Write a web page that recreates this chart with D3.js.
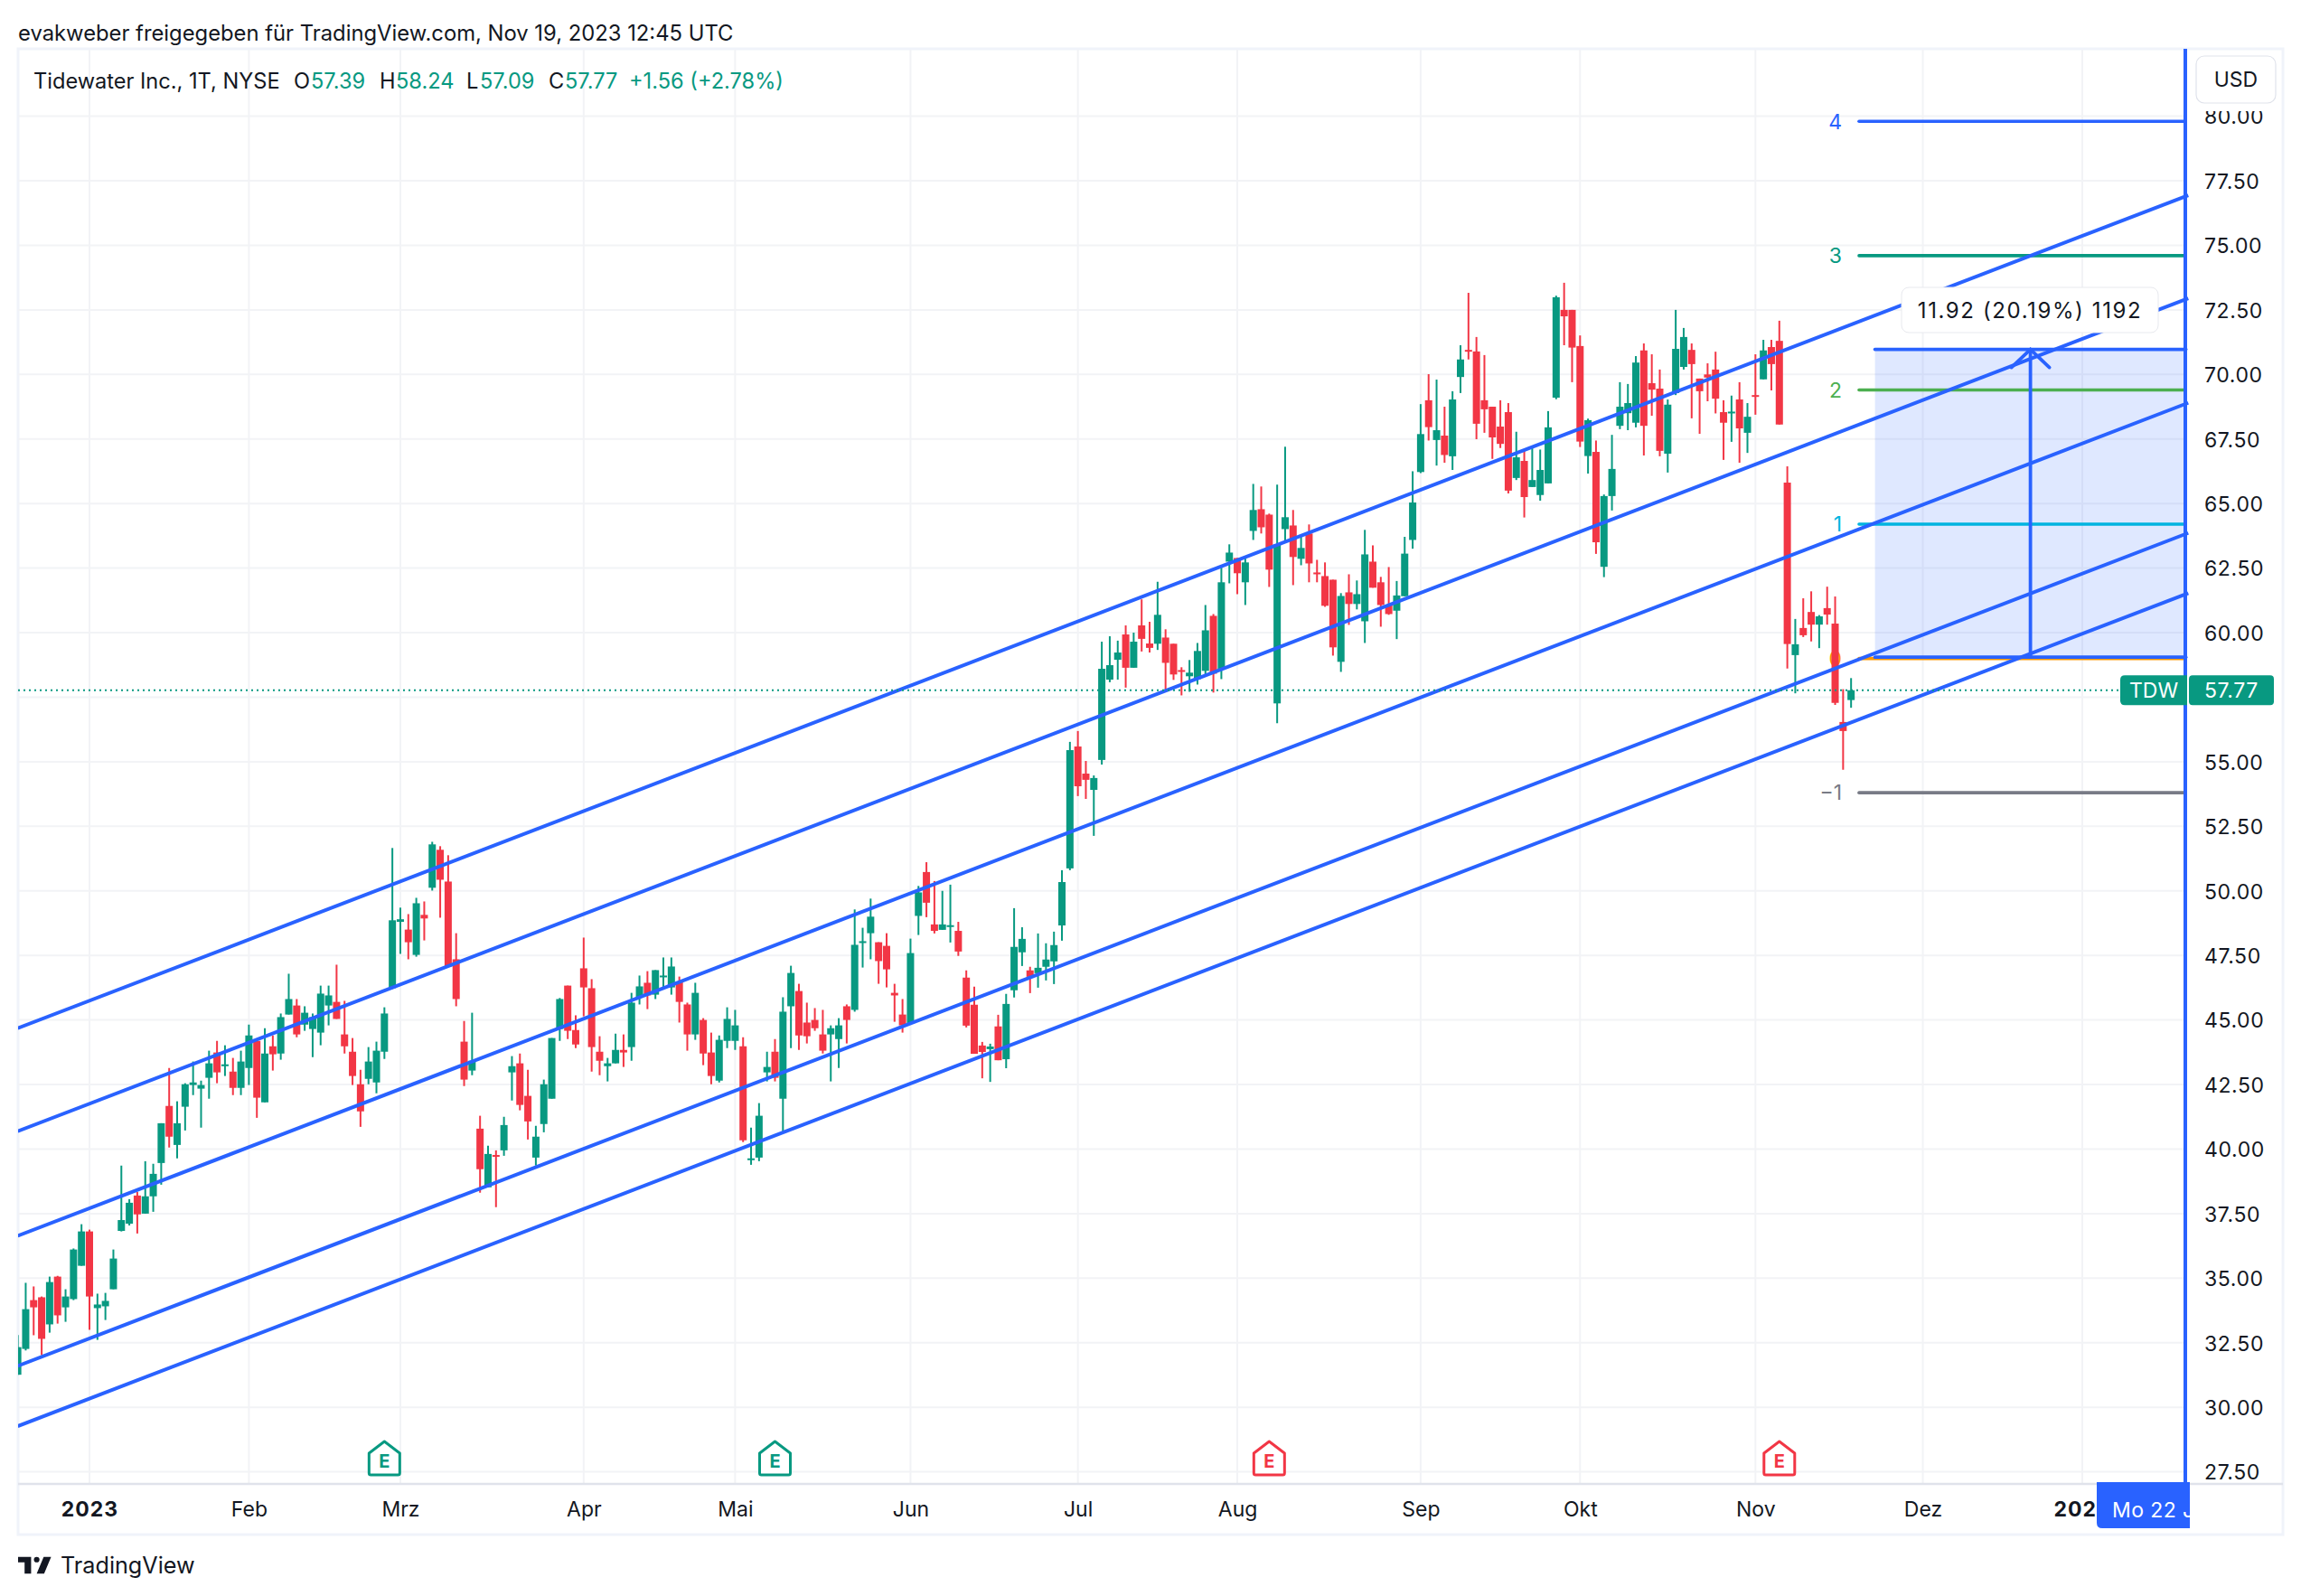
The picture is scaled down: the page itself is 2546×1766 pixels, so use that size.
<!DOCTYPE html>
<html>
<head>
<meta charset="utf-8">
<script src="https://cdn.jsdelivr.net/npm/d3@7"></script>
<style>
  html, body { margin: 0; padding: 0; background: #fff; }
  svg { display: block; font-family: Inter, "Noto Sans", sans-serif; }
</style>
</head>
<body>
<div id="chart"></div>
<script>
// daily candles of TDW, first one is 19 Dec 2022
const opens = [31.26,32.26,34.15,34.26,33.21,35.06,33.87,34.19,35.48,36.81,33.84,33.91,34.57,36.83,37.11,38.20,37.50,38.17,39.46,41.67,40.16,41.64,42.48,42.34,42.76,43.74,43.21,43.00,42.37,43.14,44.19,41.81,43.98,43.70,45.21,45.56,44.82,44.65,44.51,45.56,45.70,44.44,43.77,42.51,42.72,42.58,43.77,46.23,48.80,48.50,47.52,49.07,50.12,51.59,50.36,47.35,44.16,43.04,40.79,38.52,39.77,39.95,42.97,43.32,42.06,39.67,40.97,41.95,44.65,46.33,44.61,47.00,46.23,43.77,43.21,43.32,43.84,43.95,45.88,46.44,45.98,46.65,46.26,46.47,45.60,44.44,45.00,43.74,42.65,44.19,44.19,43.98,39.57,39.67,42.97,43.77,41.95,45.53,46.12,44.90,45.00,44.44,44.44,44.26,45.53,45.39,47.98,48.36,48.01,47.87,46.05,45.21,44.86,49.03,50.73,48.70,48.49,48.60,48.45,46.64,45.59,44.01,43.87,44.75,43.48,46.15,47.62,46.92,46.81,47.06,47.27,48.66,50.87,55.59,54.54,53.91,55.07,58.18,58.95,59.93,58.64,60.28,59.58,59.57,59.81,59.57,58.55,58.31,58.20,58.52,60.65,58.59,62.75,62.89,61.95,63.94,64.78,64.57,57.26,64.01,64.15,62.86,63.84,62.33,62.19,62.05,58.87,61.56,61.11,60.44,62.75,61.95,61.07,60.85,61.41,63.59,66.22,69.00,67.46,67.63,66.83,69.90,70.95,70.89,69.00,68.75,67.98,68.54,65.99,66.65,65.64,65.33,65.78,69.10,72.50,72.50,71.10,66.84,67.00,62.55,65.29,68.01,68.50,68.13,70.93,69.66,69.45,66.93,69.28,70.29,70.95,69.84,70.00,70.19,68.54,68.49,69.03,67.74,69.20,69.81,71.06,71.30,65.81,59.13,60.18,60.80,60.31,60.95,60.35,56.54,57.39];
const highs = [32.80,34.82,34.68,34.29,35.06,35.09,34.57,36.15,37.09,36.88,34.40,34.43,36.11,39.36,38.06,38.34,39.53,39.43,41.00,43.14,41.85,42.55,43.39,42.65,43.81,44.19,44.02,43.53,43.81,44.82,44.19,44.68,44.40,45.25,46.79,45.81,45.53,45.25,46.33,46.33,47.14,45.74,44.30,43.07,43.95,44.16,45.49,51.66,49.35,49.10,49.73,49.59,51.90,51.73,51.38,48.36,44.96,45.28,41.29,40.13,39.95,41.25,43.60,43.70,43.07,40.90,42.69,44.30,45.85,46.33,45.18,48.19,46.58,44.37,43.53,44.47,44.44,46.05,46.72,46.89,46.93,47.42,47.42,46.68,45.67,46.44,45.07,44.51,44.40,45.49,45.39,44.33,40.83,41.78,43.77,44.26,45.88,47.10,46.40,45.67,45.46,45.39,44.79,45.07,45.60,49.28,48.57,49.70,48.01,48.36,46.40,45.81,48.15,50.19,51.11,50.38,50.00,50.24,48.80,46.92,46.29,44.15,44.08,45.20,46.01,49.33,48.59,47.06,48.35,47.97,48.42,50.80,55.77,56.19,55.03,54.47,59.65,59.86,59.69,60.28,60.00,61.29,60.42,61.97,60.13,59.57,58.66,58.94,59.60,61.07,60.72,62.58,63.42,62.89,62.96,65.76,65.66,64.61,65.73,67.20,64.75,63.77,64.19,62.82,62.72,62.05,61.53,62.26,62.02,63.98,63.38,62.16,62.54,62.00,63.71,66.25,68.85,70.01,69.80,68.75,69.35,71.13,73.16,71.45,70.75,68.75,69.00,68.89,67.78,67.09,67.24,67.09,68.58,73.05,73.55,72.50,71.51,68.29,67.44,65.35,67.66,69.70,69.63,70.71,71.20,70.78,70.19,69.03,72.50,71.80,71.20,69.84,70.43,70.88,69.00,69.18,69.70,68.89,70.78,71.34,71.34,72.08,66.44,60.53,61.33,61.60,60.68,61.78,61.40,57.81,58.24];
const lows = [31.26,32.20,32.79,32.02,32.89,33.24,33.31,34.15,35.48,33.00,32.61,33.38,34.57,36.81,37.04,36.73,37.50,37.57,38.62,40.06,39.64,40.72,42.09,40.83,41.95,42.55,42.83,42.09,42.09,42.48,41.21,41.81,43.04,43.46,45.21,44.33,44.58,43.56,44.02,44.79,45.04,43.70,42.48,40.86,42.51,42.16,43.49,46.20,47.56,47.35,47.45,48.08,50.01,48.96,47.07,45.53,42.44,42.86,38.31,38.52,37.75,39.74,41.88,41.50,40.37,39.36,40.65,41.95,44.19,44.26,43.91,45.14,43.00,42.86,42.62,43.32,43.18,43.42,45.60,45.42,45.81,46.19,45.98,44.90,43.81,44.23,43.25,42.51,42.58,43.91,43.84,40.27,39.39,39.53,42.62,42.62,40.65,43.91,43.84,44.09,44.58,43.70,42.62,43.14,44.09,45.32,47.03,47.35,46.40,46.26,44.93,44.51,44.86,48.29,48.98,48.35,48.49,48.00,47.48,44.71,43.69,42.74,42.60,43.44,43.13,45.87,47.09,46.04,46.25,46.53,46.39,48.07,50.80,53.67,53.56,52.13,54.89,58.08,58.18,57.87,58.64,59.27,59.23,59.33,57.71,58.17,57.57,57.71,57.99,58.34,57.68,58.20,61.91,61.49,61.07,63.59,63.84,61.77,56.49,63.49,61.84,62.61,61.95,61.95,61.00,59.11,58.48,60.30,60.90,59.60,61.74,60.23,60.69,59.75,61.41,63.25,66.18,67.44,66.47,66.58,66.30,69.28,70.58,67.49,67.74,66.73,67.15,65.39,65.91,64.46,65.64,65.11,65.78,69.04,71.13,69.70,67.19,66.16,63.05,62.15,64.73,67.88,67.84,67.95,66.86,68.40,66.83,66.20,69.20,70.19,68.30,67.70,68.96,68.49,66.69,67.39,66.58,66.96,68.44,69.81,69.38,68.06,58.61,57.65,59.83,59.66,59.40,60.31,57.20,54.69,57.09];
const closes = [32.33,33.80,33.87,32.65,34.85,33.56,34.29,36.11,36.81,34.29,33.98,34.12,35.76,37.25,37.92,37.47,38.17,39.04,41.00,40.48,41.00,42.51,42.58,42.48,43.32,42.97,43.28,42.37,43.39,44.40,41.99,43.70,43.67,45.11,45.81,44.44,45.28,45.11,46.02,45.95,45.04,43.98,42.83,41.46,43.39,43.81,45.25,48.86,48.90,48.01,49.52,48.93,51.80,50.43,47.07,45.81,42.69,43.42,39.22,39.81,39.70,40.93,43.21,41.71,41.07,40.48,42.51,44.30,45.81,44.58,44.05,46.26,43.95,43.42,43.32,43.84,43.74,45.67,46.30,45.95,46.93,46.72,47.07,45.70,44.44,46.05,43.70,42.83,44.23,45.04,44.79,40.34,39.64,41.29,43.18,42.76,45.32,46.82,44.40,44.37,44.68,43.81,44.68,44.79,45.00,47.91,48.05,49.00,47.28,46.96,45.95,44.79,47.59,49.94,49.54,48.45,48.70,48.67,47.65,44.78,43.69,43.76,43.97,43.44,45.62,47.83,48.14,46.67,47.02,47.34,47.90,50.34,55.45,54.05,54.30,54.37,58.60,58.74,59.23,58.64,59.65,59.76,59.41,60.69,58.83,58.38,58.48,58.45,59.29,60.09,58.41,61.95,63.10,62.30,62.72,64.75,64.08,62.44,63.42,64.47,62.93,63.28,62.68,62.26,61.04,59.43,61.42,61.11,61.49,63.03,61.74,61.07,60.72,61.44,63.06,65.04,67.69,67.96,67.84,66.88,69.03,70.58,70.90,68.09,68.65,67.56,67.31,65.50,66.79,65.25,65.91,66.30,67.95,72.99,72.25,71.04,67.40,68.23,63.50,65.29,66.34,68.75,68.89,70.46,68.01,69.41,67.04,68.83,70.99,71.45,70.40,69.35,69.88,69.06,68.13,68.56,67.91,68.36,69.15,70.93,70.40,68.06,59.56,59.55,59.90,60.31,60.63,60.70,57.28,56.19,57.77];

const priceTicks = d3.range(27.5, 80.01, 2.5);
// bar index -> month label
const monthIdx = [9, 29, 48, 71, 90, 112, 133, 153, 176, 196, 218, 239, 259];
const monthLabels = ["2023", "Feb", "Mrz", "Apr", "Mai", "Jun", "Jul", "Aug", "Sep", "Okt", "Nov", "Dez", "2024"];

// five parallel channel lines: price at first bar and at right edge
const channelStart = [44.68, 40.69, 36.64, 31.60, 29.27];
const channelEnd = [76.94, 72.95, 68.90, 63.86, 61.53];
const channelFrom = 0, channelTo = 272.3;

// position tool levels
const fibLevels = ["4", "3", "2", "1", "0", "\u22121"];
const fibPrices = [79.8, 74.6, 69.4, 64.2, 59.0, 53.8];
const fibColors = ["#2962ff", "#089981", "#4caf50", "#00b4e0", "#ff9800", "#787b86"];
const fibFrom = 231, fibTo = 272;

// price range measure
const rangeFrom = 233, rangeTo = 272, rangeLow = 59.05, rangeHigh = 70.97;
const rangeText = "11.92 (20.19%) 1192";

const earningsIdx = [46, 95, 157, 221];
const earningsColors = ["#089981", "#089981", "#f23645", "#f23645"];

const lastPrice = 57.77;

const upColor = "#089981", downColor = "#f23645", blue = "#2962ff", ink = "#131722";
const gridColor = "#f2f3f6", borderColor = "#f0f3fa", axisColor = "#e0e3eb";

const width = 2546, height = 1766;
const plot = { left: 20, right: 2420, top: 55, bottom: 1642, outerRight: 2526, outerBottom: 1698 };

const svg = d3.select("#chart").append("svg").attr("width", width).attr("height", height);
svg.append("rect").attr("width", width).attr("height", height).attr("fill", "#fff");

const x = d3.scaleLinear().domain([0, 272]).range([19.62, 2418.6]);
const y = d3.scaleLinear().domain([80, 27.5]).range([128.6, 1628.6]);

svg.append("clipPath").attr("id", "plotClip").append("rect")
    .attr("x", plot.left).attr("y", plot.top)
    .attr("width", plot.right - plot.left).attr("height", plot.bottom - plot.top);
svg.append("clipPath").attr("id", "channelClip")
    .append("rect").attr("x", plot.left).attr("y", plot.top).attr("width", 2403).attr("height", plot.bottom - plot.top);

// outer frame
svg.append("rect")
    .attr("x", plot.left).attr("y", plot.top - 1)
    .attr("width", plot.outerRight - plot.left).attr("height", plot.outerBottom - plot.top + 1)
    .attr("fill", "none").attr("stroke", borderColor).attr("stroke-width", 3);

// grid
const grid = svg.append("g").attr("stroke", gridColor).attr("stroke-width", 2);
grid.selectAll(".h").data(priceTicks).join("line")
    .attr("x1", plot.left).attr("x2", plot.right)
    .attr("y1", d => y(d)).attr("y2", d => y(d));
grid.selectAll(".v").data(monthIdx).join("line")
    .attr("x1", d => x(d)).attr("x2", d => x(d))
    .attr("y1", plot.top).attr("y2", plot.bottom);

const chartG = svg.append("g").attr("clip-path", "url(#plotClip)");

// range fill
chartG.append("rect")
    .attr("x", x(rangeFrom)).attr("y", y(rangeHigh))
    .attr("width", x(rangeTo) - x(rangeFrom)).attr("height", y(rangeLow) - y(rangeHigh))
    .attr("fill", blue).attr("fill-opacity", 0.15);

// levels with their numbers
chartG.selectAll(".fib").data(fibPrices).join("line")
    .attr("x1", x(fibFrom)).attr("x2", x(fibTo))
    .attr("y1", d => y(d)).attr("y2", d => y(d))
    .attr("stroke", (d, i) => fibColors[i]).attr("stroke-width", 3.6)
    .attr("stroke-linecap", "round");
chartG.selectAll(".fibLabel").data(fibPrices).join("text")
    .attr("x", 2038).attr("y", d => y(d)).attr("dy", "0.36em")
    .attr("text-anchor", "end").attr("font-size", 23)
    .attr("fill", (d, i) => fibColors[i])
    .text((d, i) => fibLevels[i]);

// channel
const channelG = svg.append("g").attr("clip-path", "url(#channelClip)");
channelG.selectAll(".channel").data(channelStart).join("line")
    .attr("x1", x(channelFrom)).attr("x2", x(channelTo))
    .attr("y1", d => y(d)).attr("y2", (d, i) => y(channelEnd[i]))
    .attr("stroke", blue).attr("stroke-width", 4);

// measure lines and arrow
const rangeG = svg.append("g").attr("stroke", blue).attr("stroke-width", 3.8).attr("fill", "none").attr("stroke-linecap", "round");
[rangeLow, rangeHigh].forEach(p => {
    rangeG.append("line").attr("x1", x(rangeFrom)).attr("x2", x(rangeTo)).attr("y1", y(p)).attr("y2", y(p));
});
const midBar = (rangeFrom + rangeTo) / 2;
rangeG.append("line").attr("x1", x(midBar)).attr("x2", x(midBar)).attr("y1", y(rangeLow)).attr("y2", y(rangeHigh));
rangeG.append("path").attr("d", `M${x(midBar) - 21},${y(rangeHigh) + 20}L${x(midBar)},${y(rangeHigh)}L${x(midBar) + 21},${y(rangeHigh) + 20}`);

// right edge of the measure tool
svg.append("line").attr("x1", 2418).attr("x2", 2418).attr("y1", plot.top - 1).attr("y2", plot.bottom)
    .attr("stroke", blue).attr("stroke-width", 4);

// last price dotted line
svg.append("line")
    .attr("x1", plot.left).attr("x2", 2346)
    .attr("y1", y(lastPrice)).attr("y2", y(lastPrice))
    .attr("stroke", upColor).attr("stroke-width", 2).attr("stroke-dasharray", "2 4");

// candles
const bars = d3.range(opens.length);
const candles = chartG.append("g");
candles.selectAll(".wick").data(bars).join("line")
    .attr("x1", d => x(d)).attr("x2", d => x(d))
    .attr("y1", d => y(highs[d])).attr("y2", d => y(lows[d]))
    .attr("stroke", d => closes[d] >= opens[d] ? upColor : downColor)
    .attr("stroke-width", 2);
candles.selectAll(".body").data(bars).join("rect")
    .attr("x", d => x(d) - 4).attr("width", 8)
    .attr("y", d => y(Math.max(opens[d], closes[d])))
    .attr("height", d => Math.max(2, Math.abs(y(opens[d]) - y(closes[d]))))
    .attr("fill", d => closes[d] >= opens[d] ? upColor : downColor);

// earnings flags
const flagY = 1593;
const flags = svg.selectAll(".flag").data(earningsIdx).join("g")
    .attr("transform", d => `translate(${x(d)},${flagY})`);
flags.append("path")
    .attr("d", "M0,2 L17,15 V37 Q17,39 15,39 H-15 Q-17,39 -17,37 V15 Z")
    .attr("fill", "#fff").attr("stroke-width", 3).attr("stroke-linejoin", "round")
    .attr("stroke", (d, i) => earningsColors[i]);
flags.append("text")
    .attr("y", 31).attr("text-anchor", "middle").attr("font-size", 20).attr("font-weight", 700)
    .attr("fill", (d, i) => earningsColors[i]).text("E");

// measure label
svg.append("rect").attr("x", 2104).attr("y", 318).attr("width", 284).attr("height", 50).attr("rx", 8)
    .attr("fill", "#fff").attr("stroke", "#e8e9ee").attr("stroke-width", 1);
svg.append("text").attr("x", 2246).attr("y", 343).attr("dy", "0.36em").attr("text-anchor", "middle")
    .attr("font-size", 24).attr("letter-spacing", 1.6).attr("fill", ink).text(rangeText);

// price axis, 57.50 sits under the last price tag
const yAxis = d3.axisRight(y).tickValues(priceTicks).tickSize(0).tickPadding(0)
    .tickFormat(d => d === 57.5 ? "" : d3.format(".2f")(d));
const yG = svg.append("g").attr("transform", "translate(2439,1)").call(yAxis);
yG.select(".domain").remove();
yG.selectAll("text").attr("font-family", "Inter").attr("font-size", 23).attr("letter-spacing", 0.6).attr("fill", ink);

// time axis
svg.append("line").attr("x1", plot.left).attr("x2", plot.outerRight).attr("y1", plot.bottom).attr("y2", plot.bottom)
    .attr("stroke", axisColor).attr("stroke-width", 2.5);
const xAxis = d3.axisBottom(x).tickValues(monthIdx).tickSize(0).tickPadding(0)
    .tickFormat((d, i) => monthLabels[i]);
const xG = svg.append("g").attr("transform", `translate(0,${plot.bottom + 20})`).call(xAxis);
xG.select(".domain").remove();
xG.selectAll("text").attr("font-family", "Inter").attr("font-size", 23).attr("fill", ink)
    .attr("font-weight", (d, i) => monthLabels[i].length === 4 ? 700 : 400)
    .attr("letter-spacing", (d, i) => monthLabels[i].length === 4 ? 1 : 0);

// crosshair date tag, text runs past the tag and gets cut
svg.append("clipPath").attr("id", "dateClip").append("rect").attr("x", 2320).attr("y", plot.bottom - 2).attr("width", 103).attr("height", 52);
svg.append("path").attr("d", `M2320,${plot.bottom - 2}H2423V1691H2326Q2320,1691 2320,1685Z`).attr("fill", blue);
svg.append("text").attr("x", 2337).attr("y", 1671).attr("clip-path", "url(#dateClip)")
    .attr("font-size", 23).attr("letter-spacing", 0.4).attr("fill", "#fff").attr("dy", "0.36em").text("Mo 22 Jan '24");

// last price tags
const tagTop = y(lastPrice) - 16.5, tagBottom = y(lastPrice) + 16.5;
svg.append("path").attr("d", `M2351,${tagTop}H2420V${tagBottom}H2351Q2346,${tagBottom} 2346,${tagBottom - 5}V${tagTop + 5}Q2346,${tagTop} 2351,${tagTop}Z`).attr("fill", upColor);
svg.append("text").attr("x", 2383).attr("y", y(lastPrice)).attr("dy", "0.36em").attr("text-anchor", "middle")
    .attr("font-size", 23).attr("fill", "#fff").text("TDW");
svg.append("rect").attr("x", 2422).attr("y", tagTop).attr("width", 94).attr("height", 33).attr("rx", 4).attr("fill", upColor);
svg.append("text").attr("x", 2439).attr("y", y(lastPrice)).attr("dy", "0.36em")
    .attr("font-size", 23).attr("letter-spacing", 0.6).attr("fill", "#fff").text(lastPrice.toFixed(2));

// USD button, it cuts the top of the 80.00 label
svg.append("rect").attr("x", 2426).attr("y", 114).attr("width", 96).attr("height", 9).attr("fill", "#fff");
svg.append("rect").attr("x", 2430).attr("y", 62).attr("width", 88).attr("height", 52).attr("rx", 9)
    .attr("fill", "#fff").attr("stroke", axisColor).attr("stroke-width", 1.2);
svg.append("text").attr("x", 2474).attr("y", 88).attr("dy", "0.36em").attr("text-anchor", "middle")
    .attr("font-size", 23).attr("fill", ink).text("USD");

// header
svg.append("text").attr("x", 20).attr("y", 36).attr("dy", "0.36em")
    .attr("font-size", 23.8).attr("fill", ink)
    .text("evakweber freigegeben für TradingView.com, Nov 19, 2023 12:45 UTC");

// legend row
const legendX = [37, 325, 344, 420, 438, 516, 531, 607, 625, 696];
const legendText = ["Tidewater Inc., 1T, NYSE", "O", "57.39", "H", "58.24", "L", "57.09", "C", "57.77", "+1.56 (+2.78%)"];
svg.selectAll(".legend").data(legendText).join("text")
    .attr("x", (d, i) => legendX[i]).attr("y", 89.5).attr("dy", "0.36em")
    .attr("font-size", 23.6)
    .attr("fill", (d, i) => (i === 0 || i % 2 === 1 && i < 8) ? ink : upColor)
    .text(d => d);

// footer logo
const logo = svg.append("g").attr("transform", "translate(20,1716.5) scale(1.03)").attr("fill", ink);
logo.append("path").attr("d", "M14 6H0v6h7v12h7V6z M28 24h-8l7.5-18h8L28 24z");
logo.append("circle").attr("cx", 20).attr("cy", 9).attr("r", 3);
svg.append("text").attr("x", 67).attr("y", 1732).attr("dy", "0.36em")
    .attr("font-size", 25.2).attr("fill", ink).text("TradingView");
</script>
</body>
</html>
